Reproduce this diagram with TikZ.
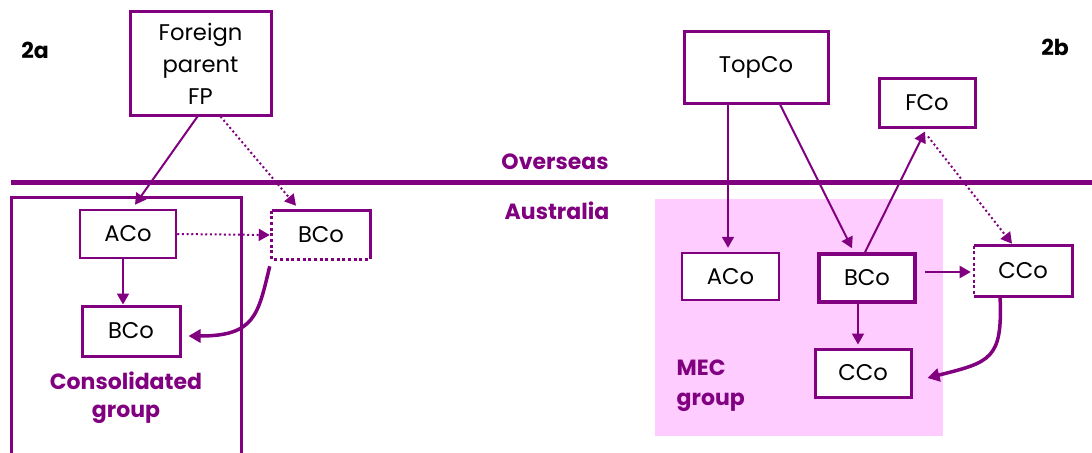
\documentclass[tikz,border=0pt]{standalone}
\usepackage{fontspec}
\setmainfont{Poppins}
\usetikzlibrary{arrows.meta}
\newlength\upx
\setlength\upx{0.75pt}
\definecolor{purp}{HTML}{800080}
\definecolor{pinkbg}{HTML}{FFCCFF}
\tikzset{
  cobox/.style={draw=purp, line width=3\upx, fill=white, inner sep=0pt, font=\fontsize{17}{24}\selectfont, align=center, text=black},
  nobox/.style={draw=none, fill=white, inner sep=0pt, font=\fontsize{17}{24}\selectfont, align=center, text=black},
  arr/.style={draw=purp, line width=2\upx, -{Triangle[length=8.25pt,width=9pt]}},
  darr/.style={draw=purp, line width=2\upx, dotted, -{Triangle[length=8.25pt,width=9pt]}},
  carr/.style={draw=purp, line width=3.5\upx, -{Triangle[length=9pt,width=9.75pt]}},
  lbl/.style={text=purp, font=\fontsize{16.5}{21}\selectfont\bfseries},
  sidelbl/.style={text=black, font=\fontsize{16.5}{21}\selectfont\bfseries},
  dotedge/.style={draw=purp, line width=3\upx, dotted},
  solidedge/.style={draw=purp, line width=3\upx}
}
\begin{document}
\begin{tikzpicture}[x=\upx, y=-\upx]
\useasboundingbox (0,0) rectangle (1092,453);
\clip (0,0) rectangle (1092,453);
% background regions
\fill[pinkbg] (655,199) rectangle (943,436);
\draw[purp, line width=3\upx] (11,470) -- (11,197) -- (241,197) -- (241,470);
\draw[purp, line width=5\upx] (11,182) -- (1092,182);
% labels
\node[sidelbl] (l2a) at (35,50) {2a};
\node[sidelbl] (l2b) at (1055,47) {2b};
\node[lbl] (over) at (555,162) {Overseas};
\node[lbl] (aus) at (557,211) {Australia};
\node[lbl, align=center] (cons) at (126,398) {Consolidated\\group};
\node[lbl, align=left, anchor=west, font=\fontsize{16.5}{22.5}\selectfont\bfseries] (mec) at (672,386) {MEC\\group};
% left diagram nodes
\node[cobox, minimum width=141\upx, minimum height=103\upx] (fp) at (200.5,63.5) {Foreign\\parent\\FP};
\node[cobox, line width=2.5\upx, minimum width=96\upx, minimum height=48\upx] (acoL) at (128,234) {ACo};
\node[nobox, minimum width=98\upx, minimum height=48\upx] (bco2a) at (321,235) {BCo};
\draw[solidedge] (bco2a.north west) -- (bco2a.north east) -- (bco2a.south east);
\draw[dotedge] (bco2a.north west) -- (bco2a.south west) -- (bco2a.south east);
\node[cobox, minimum width=98\upx, minimum height=50\upx] (bcoL) at (131,331) {BCo};
% right diagram nodes
\node[cobox, minimum width=144\upx, minimum height=71\upx] (topco) at (756,67.5) {TopCo};
\node[cobox, minimum width=96\upx, minimum height=48\upx] (fco) at (927,103) {FCo};
\node[cobox, line width=2.5\upx, minimum width=97\upx, minimum height=47\upx] (acoR) at (730.5,276.5) {ACo};
\node[cobox, line width=3.5\upx, minimum width=96\upx, minimum height=48\upx] (bcoR) at (867,278) {BCo};
\node[cobox, minimum width=96\upx, minimum height=48\upx] (ccoL) at (863,373) {CCo};
\node[nobox, minimum width=98\upx, minimum height=50\upx] (ccoR) at (1023,271) {CCo};
\draw[solidedge] (ccoR.north west) -- (ccoR.north east) -- (ccoR.south east) -- (ccoR.south west);
\draw[dotedge, line width=2\upx] (ccoR.north west) -- (ccoR.south west);
% left connectors
\draw[arr] ([xshift=-3\upx]fp.south) -- ([xshift=7\upx,yshift=4\upx]acoL.north);
\draw[darr] ([xshift=20\upx]fp.south) -- ([xshift=-25\upx,yshift=5\upx]bco2a.north);
\draw[darr] (acoL.east) -- ([xshift=-2\upx]bco2a.west);
\draw[arr] ([xshift=-5\upx]acoL.south) -- ([xshift=-5\upx]acoL.south |- bcoL.north);
\draw[carr] ([xshift=-2\upx,yshift=-7\upx]bco2a.south west) .. controls (258,315) and (255,336) .. ([xshift=7\upx,yshift=-5\upx]bcoL.east);
% right connectors
\draw[arr] ([xshift=-28\upx]topco.south) -- ([xshift=-28\upx,yshift=4\upx]topco.south |- acoR.north);
\draw[arr] ([xshift=24\upx]topco.south) -- ([xshift=-15\upx,yshift=4\upx]bcoR.north);
\draw[arr] ([xshift=-2\upx]bcoR.north) -- ([xshift=-2\upx,yshift=-3\upx]fco.south);
\draw[darr] ([xshift=1\upx,yshift=-8\upx]fco.south) -- ([xshift=-11\upx,yshift=2\upx]ccoR.north);
\draw[arr] ([xshift=8\upx,yshift=6\upx]bcoR.east) -- ([xshift=-3\upx,yshift=-1\upx]ccoR.west);
\draw[arr] ([xshift=-9\upx]bcoR.south) -- ([xshift=-9\upx,yshift=3\upx]bcoR.south |- ccoL.north);
\draw[carr] ([xshift=-23\upx]ccoR.south) .. controls (1003,360) and (990,362) .. ([xshift=15\upx,yshift=-5\upx]ccoL.east);
\end{tikzpicture}
\end{document}
